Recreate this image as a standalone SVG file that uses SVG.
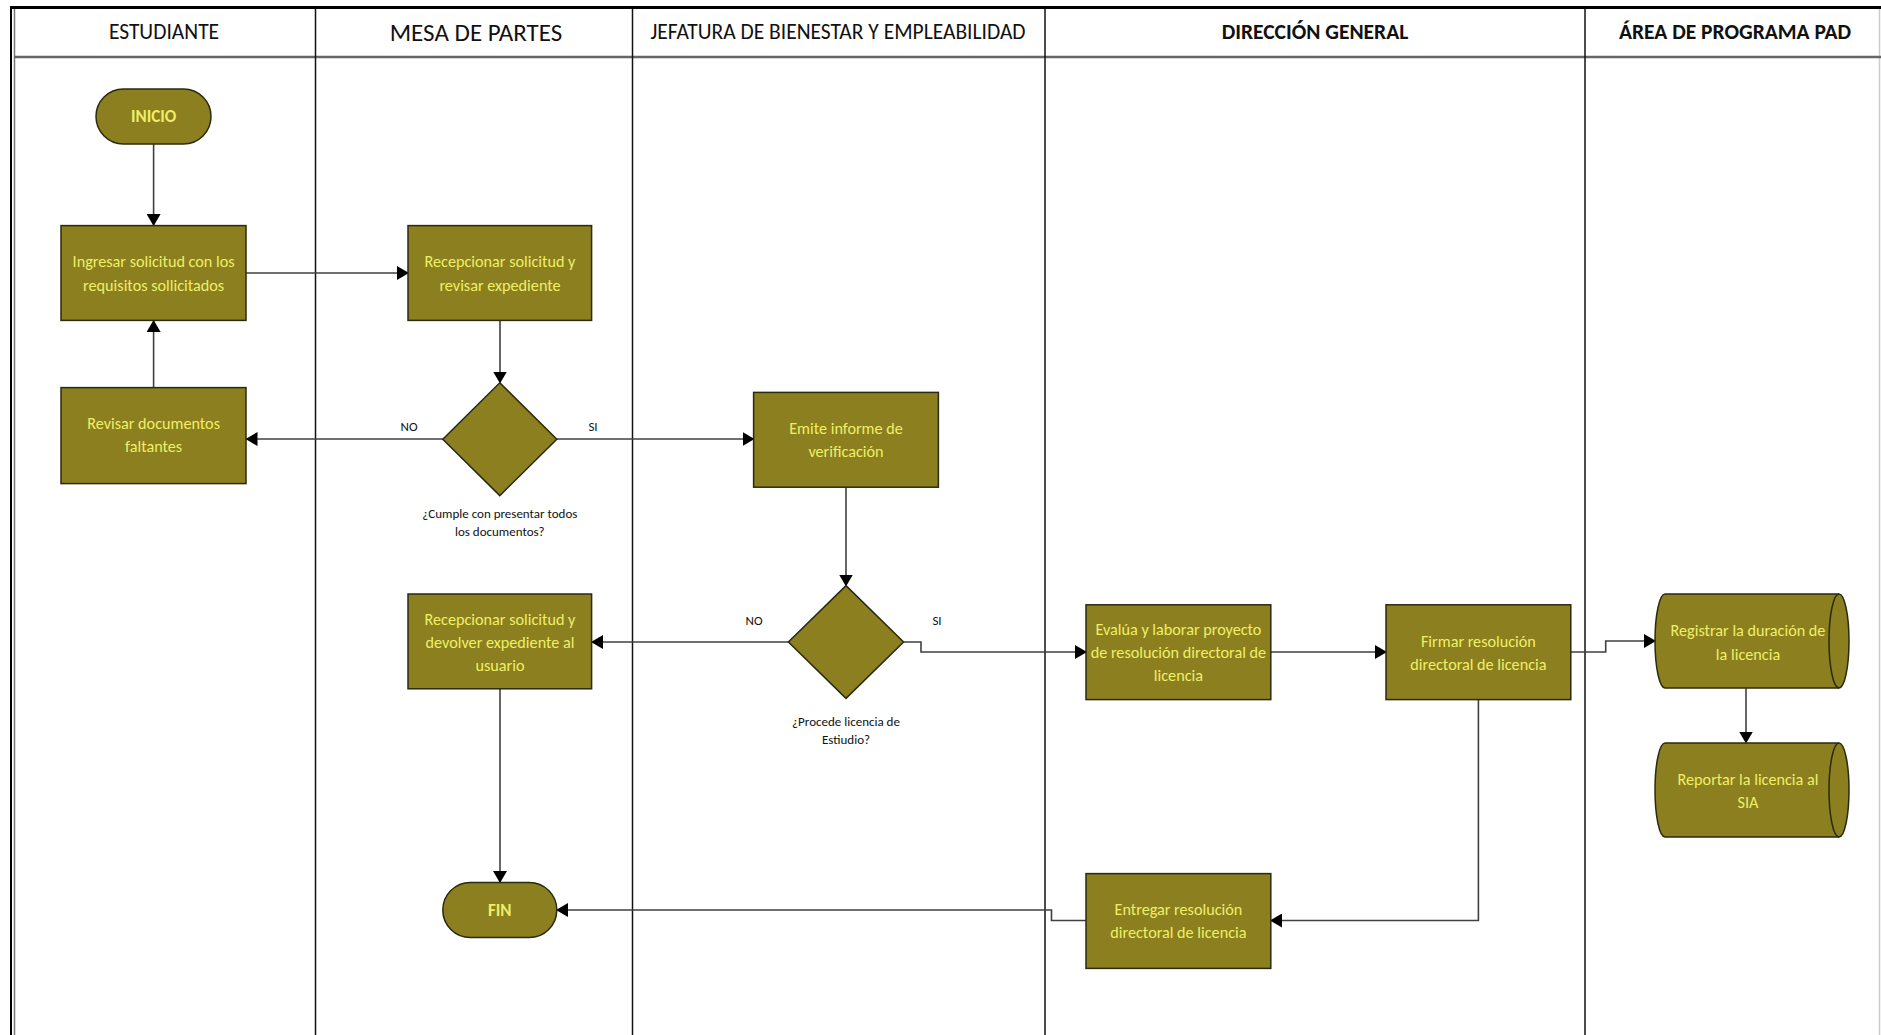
<svg xmlns="http://www.w3.org/2000/svg" width="1881" height="1035" viewBox="0 0 1881 1035">
<style>
.lane{stroke:#111;stroke-width:1.5;fill:none}
.node{fill:#8B7F20;stroke:#2a2a10;stroke-width:1.5}
.ntx{font-family:Carlito,"Liberation Sans Narrow","Liberation Sans",sans-serif;font-size:16.2px;fill:#EFEF66;text-anchor:middle;dominant-baseline:central}
.term{font-weight:bold;font-size:17px}
.hdr{font-family:Carlito,"Liberation Sans Narrow","Liberation Sans",sans-serif;font-size:21.5px;fill:#111;text-anchor:middle;dominant-baseline:central}
.lbl{font-family:Carlito,"Liberation Sans Narrow","Liberation Sans",sans-serif;font-size:13px;fill:#111;text-anchor:middle;dominant-baseline:central}
.con{stroke:#404040;stroke-width:1.6;fill:none;marker-end:url(#arr)}
</style>
<defs>
<marker id="arr" markerUnits="userSpaceOnUse" markerWidth="12" markerHeight="14" refX="11" refY="7" orient="auto">
<path d="M0,0 L12,7 L0,14 Z" fill="#000"/>
</marker>
</defs>
<rect width="1881" height="1035" fill="#fff"/>
<g id="frame">
<line x1="11" y1="7" x2="11" y2="1035" stroke="#000" stroke-width="2"/>
<line x1="14.5" y1="9" x2="14.5" y2="1035" stroke="#777" stroke-width="1.5"/>
<line x1="10" y1="7.5" x2="1881" y2="7.5" stroke="#000" stroke-width="3"/>
<line x1="1879.5" y1="9" x2="1879.5" y2="1035" stroke="#ccc" stroke-width="1.5"/>
<line x1="14" y1="57" x2="1881" y2="57" stroke="#666" stroke-width="2.5"/>
<line class="lane" x1="315.5" y1="9" x2="315.5" y2="1035"/>
<line class="lane" x1="632.5" y1="9" x2="632.5" y2="1035"/>
<line class="lane" x1="1045" y1="9" x2="1045" y2="1035"/>
<line class="lane" x1="1585" y1="9" x2="1585" y2="1035"/>
<text class="hdr" x="164" y="32">ESTUDIANTE</text>
<text class="hdr" x="476" y="32" style="font-size:25px">MESA DE PARTES</text>
<text class="hdr" x="838" y="32">JEFATURA DE BIENESTAR Y EMPLEABILIDAD</text>
<text class="hdr" x="1315" y="32" font-weight="bold">DIRECCIÓN GENERAL</text>
<text class="hdr" x="1735" y="32" font-weight="bold">ÁREA DE PROGRAMA PAD</text>
</g>
<g id="connectors">
<path class="con" d="M153.6,144 V225"/>
<path class="con" d="M153.6,387.6 V321"/>
<path class="con" d="M246,273 H408"/>
<path class="con" d="M500,320.4 V382.5"/>
<path class="con" d="M442.8,439 H246.5"/>
<path class="con" d="M556.8,439 H753.5"/>
<path class="con" d="M846,487.2 V585.5"/>
<path class="con" d="M788.4,642 H592"/>
<path class="con" d="M903.6,642 H921 V652 H1086"/>
<path class="con" d="M1270.8,652 H1386"/>
<path class="con" d="M1570.8,652 H1605.7 V641 H1655"/>
<path class="con" d="M1746,688.3 V742.5"/>
<path class="con" d="M500,688.8 V882"/>
<path class="con" d="M1478.4,699.6 V920.5 H1271"/>
<path class="con" d="M1086,920.5 H1051.5 V910 H557"/>
<text class="lbl" x="409" y="426">NO</text>
<text class="lbl" x="593" y="426">SI</text>
<text class="lbl" x="754" y="620">NO</text>
<text class="lbl" x="937" y="620">SI</text>
</g>
<g id="inicio">
<rect class="node" x="96" y="89" width="115" height="55" rx="27.5"/>
<text class="ntx term" x="153.6" y="116.5">INICIO</text>
</g>
<g id="ingresar">
<rect class="node" x="61" y="225.6" width="185" height="94.8"/>
<text class="ntx" x="153.6" y="261">Ingresar solicitud con los</text>
<text class="ntx" x="153.6" y="285">requisitos sollicitados</text>
</g>
<g id="recepcionar">
<rect class="node" x="408" y="225.6" width="183.6" height="94.8"/>
<text class="ntx" x="500" y="261">Recepcionar solicitud y</text>
<text class="ntx" x="500" y="285">revisar expediente</text>
</g>
<g id="revisar">
<rect class="node" x="61" y="387.6" width="185" height="96"/>
<text class="ntx" x="153.6" y="423.6">Revisar documentos</text>
<text class="ntx" x="153.6" y="446.6">faltantes</text>
</g>
<g id="cumple">
<polygon class="node" points="499.8,382.8 556.8,439.2 499.8,495.6 442.8,439.2"/>
<text class="lbl" x="499.8" y="513.6">¿Cumple con presentar todos</text>
<text class="lbl" x="499.8" y="531.6">los documentos?</text>
</g>
<g id="emite">
<rect class="node" x="753.6" y="392.4" width="184.8" height="94.8"/>
<text class="ntx" x="846" y="428">Emite informe de</text>
<text class="ntx" x="846" y="451">verificación</text>
</g>
<g id="procede">
<polygon class="node" points="846,585.6 903.6,642 846,698.4 788.4,642"/>
<text class="lbl" x="846" y="721">¿Procede licencia de</text>
<text class="lbl" x="846" y="739">Estiudio?</text>
</g>
<g id="devolver">
<rect class="node" x="408" y="594" width="183.6" height="94.8"/>
<text class="ntx" x="500" y="619">Recepcionar solicitud y</text>
<text class="ntx" x="500" y="642">devolver expediente al</text>
<text class="ntx" x="500" y="665">usuario</text>
</g>
<g id="evalua">
<rect class="node" x="1086" y="604.8" width="184.8" height="94.8"/>
<text class="ntx" x="1178.4" y="629">Evalúa y laborar proyecto</text>
<text class="ntx" x="1178.4" y="652">de resolución directoral de</text>
<text class="ntx" x="1178.4" y="675">licencia</text>
</g>
<g id="firmar">
<rect class="node" x="1386" y="604.8" width="184.8" height="94.8"/>
<text class="ntx" x="1478.4" y="641">Firmar resolución</text>
<text class="ntx" x="1478.4" y="664">directoral de licencia</text>
</g>
<g id="registrar">
<path class="node" d="M1665,594 H1839 A10,47 0 0 1 1839,688 H1665 A10,47 0 0 1 1665,594 Z"/>
<path class="node" style="fill:none" d="M1839,594 A10,47 0 0 0 1839,688"/>
<text class="ntx" x="1748" y="630">Registrar la duración de</text>
<text class="ntx" x="1748" y="654">la licencia</text>
</g>
<g id="reportar">
<path class="node" d="M1665,743 H1839 A10,47 0 0 1 1839,837 H1665 A10,47 0 0 1 1665,743 Z"/>
<path class="node" style="fill:none" d="M1839,743 A10,47 0 0 0 1839,837"/>
<text class="ntx" x="1748" y="779">Reportar la licencia al</text>
<text class="ntx" x="1748" y="802">SIA</text>
</g>
<g id="entregar">
<rect class="node" x="1086" y="873.6" width="184.8" height="94.8"/>
<text class="ntx" x="1178.4" y="909.5">Entregar resolución</text>
<text class="ntx" x="1178.4" y="932.5">directoral de licencia</text>
</g>
<g id="fin">
<rect class="node" x="442.8" y="882.5" width="114" height="55" rx="27.5"/>
<text class="ntx term" x="499.8" y="910">FIN</text>
</g>
</svg>
